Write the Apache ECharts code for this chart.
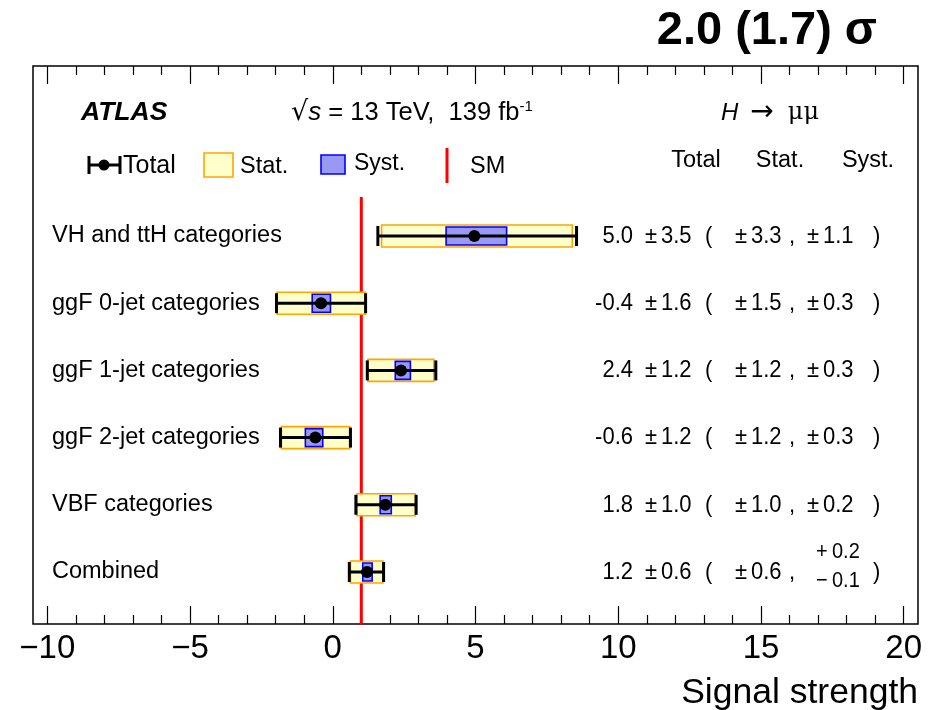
<!DOCTYPE html>
<html><head><meta charset="utf-8">
<script src="https://cdn.jsdelivr.net/npm/echarts@6/dist/echarts.min.js"></script>
<style>html,body{margin:0;padding:0;background:#fff}#c{width:936px;height:710px}</style>
</head><body><div id="c"></div>
<script>
// ---- data ----
const categories = ['VH and ttH categories','ggF 0-jet categories','ggF 1-jet categories','ggF 2-jet categories','VBF categories','Combined'];
const rowPos   = [5, 4, 3, 2, 1, 0];
const center   = [4.96, -0.41, 2.39, -0.61, 1.84, 1.20];
const totLo    = [1.58, -1.97, 1.21, -1.83, 0.81, 0.58];
const totHi    = [8.54, 1.15, 3.61, 0.62, 2.92, 1.78];
const statLo   = [1.71, -1.95, 1.23, -1.80, 0.85, 0.62];
const statHi   = [8.39, 1.15, 3.54, 0.59, 2.89, 1.76];
const systLo   = [3.97, -0.72, 2.19, -0.96, 1.66, 1.05];
const systHi   = [6.09, -0.08, 2.72, -0.35, 2.05, 1.38];
const valTxt   = ['5.0', '-0.4', '2.4', '-0.6', '1.8', '1.2'];
const totTxt   = ['3.5', '1.6', '1.2', '1.2', '1.0', '0.6'];
const statTxt  = ['3.3', '1.5', '1.2', '1.2', '1.0', '0.6'];
const systUp   = ['1.1', '0.3', '0.3', '0.3', '0.2', '0.2'];
const systDn   = ['1.1', '0.3', '0.3', '0.3', '0.2', '0.1'];
const smValue  = 1;
const smRange  = [-0.78, 5.58];
const majorTicks = [-10, -5, 0, 5, 10, 15, 20];
const minorTicks = [-9, -8, -7, -6, -4, -3, -2, -1, 1, 2, 3, 4, 6, 7, 8, 9, 11, 12, 13, 14, 16, 17, 18, 19];
const xRange = [-10.5, 20.5];
const yRange = [-0.774, 7.53];
const titleTxt = '2.0 (1.7) σ';
const xTitle = 'Signal strength';

const FONT = '"Liberation Sans", Arial, Helvetica, sans-serif';
const chart = echarts.init(document.getElementById('c'));

function xa(pos, vals, len, showLabel) {
  return {
    type: 'value', position: pos, min: xRange[0], max: xRange[1],
    axisLine: {show: false, onZero: false}, splitLine: {show: false},
    axisTick: {show: true, inside: true, length: len, customValues: vals, lineStyle: {color: '#000', width: 1.2}},
    axisLabel: showLabel ? {show: true, customValues: vals, margin: 8, color: '#000', fontSize: 33, fontFamily: FONT,
      formatter: v => String(v).replace('-', '\u2212')} : {show: false}
  };
}

const rowData = rowPos.map((p, i) => [p, center[i], totLo[i], totHi[i], statLo[i], statHi[i], systLo[i], systHi[i]]);

function txt(x, y, s, size, align, sy) {
  return {type: 'text', x: x, y: y, scaleY: sy || 1, style: {text: s, fill: '#000', font: (size || 22) + 'px ' + FONT,
    textAlign: align || 'left', textVerticalAlign: 'middle'}};
}

const NS = 22, SY = 1.12;
const option = {
  animation: false,
  backgroundColor: '#fff',
  grid: {left: 33, right: 18, top: 66, bottom: 86, show: true, borderColor: '#000', borderWidth: 1.5},
  xAxis: [xa('bottom', majorTicks, 18, true), xa('bottom', minorTicks, 9, false),
          xa('top', majorTicks, 18, false), xa('top', minorTicks, 9, false)],
  yAxis: {type: 'value', min: yRange[0], max: yRange[1], show: false},
  series: [
    {
      type: 'line', xAxisIndex: 0, data: smRange.map(v => [smValue, v]), symbol: 'none',
      lineStyle: {color: '#ff0000', width: 3}, z: 1, silent: true
    },
    {
      type: 'custom', xAxisIndex: 0, z: 3,
      data: rowData,
      encode: {x: [1, 2, 3, 4, 5, 6, 7], y: 0},
      renderItem: function (params, api) {
        const y = api.coord([0, api.value(0)])[1];
        const px = v => api.coord([v, 0])[0];
        const c = px(api.value(1)), tl = px(api.value(2)), th = px(api.value(3));
        const sl = px(api.value(4)), sh = px(api.value(5)), yl = px(api.value(6)), yh = px(api.value(7));
        return {type: 'group', children: [
          {type: 'rect', shape: {x: sl, y: y - 11, width: sh - sl, height: 22}, style: {fill: '#ffffcc', stroke: '#ffa500', lineWidth: 1.6}},
          {type: 'rect', shape: {x: yl, y: y - 9, width: yh - yl, height: 18}, style: {fill: '#9999f5', stroke: '#0000ff', lineWidth: 1.6}},
          {type: 'line', shape: {x1: tl, y1: y, x2: th, y2: y}, style: {stroke: '#000', lineWidth: 3}},
          {type: 'line', shape: {x1: tl, y1: y - 10, x2: tl, y2: y + 10}, style: {stroke: '#000', lineWidth: 3}},
          {type: 'line', shape: {x1: th, y1: y - 10, x2: th, y2: y + 10}, style: {stroke: '#000', lineWidth: 3}},
          {type: 'circle', shape: {cx: c, cy: y, r: 6}, style: {fill: '#000'}}
        ]};
      }
    },
    {
      type: 'custom', xAxisIndex: 0, z: 4, silent: true,
      data: rowPos.map((p, i) => [p, i]),
      encode: {y: 0},
      renderItem: function (params, api) {
        const i = api.value(1);
        const y = api.coord([0, api.value(0)])[1];
        const ch = [
          txt(52, y, categories[i], 23.5),
          txt(633, y, valTxt[i], NS, 'right', SY),
          txt(645, y, '\u00b1', NS, 'left', SY),
          txt(661, y, totTxt[i], NS, 'left', SY),
          txt(705, y, '(', NS, 'left', SY),
          txt(735, y, '\u00b1', NS, 'left', SY),
          txt(751, y, statTxt[i], NS, 'left', SY),
          txt(789, y, ',', NS, 'left', SY),
          txt(873, y, ')', NS, 'left', SY)
        ];
        if (systUp[i] === systDn[i]) {
          ch.push(txt(807, y, '\u00b1', NS, 'left', SY));
          ch.push(txt(823, y, systUp[i], NS, 'left', SY));
        } else {
          ch.push(txt(816, y - 20, '+', 20, 'left', SY));
          ch.push(txt(832, y - 20, systUp[i], 20, 'left', SY));
          ch.push(txt(816, y + 9, '\u2212', 20, 'left', SY));
          ch.push(txt(832, y + 9, systDn[i], 20, 'left', SY));
        }
        return {type: 'group', children: ch};
      }
    }
  ],
  graphic: [
    {type: 'text', x: 877, y: 31, style: {text: titleTxt, fill: '#000', font: 'bold 47px ' + FONT, textAlign: 'right', textVerticalAlign: 'middle'}},
    {type: 'text', right: 18, top: 675, style: {text: xTitle, fill: '#000', font: '35.5px ' + FONT}},
    {type: 'text', x: 81, y: 113, style: {text: 'ATLAS', fill: '#000', font: 'italic bold 26.5px ' + FONT, textVerticalAlign: 'middle'}},
    {type: 'text', x: 291, y: 113, style: {rich: {
        q: {font: '27px "DejaVu Sans"', fill: '#000'},
        r: {font: '25.5px ' + FONT, fill: '#000'}, s: {font: 'italic 26px ' + FONT, fill: '#000'},
        sup: {font: '15px ' + FONT, fill: '#000', verticalAlign: 'top', padding: [0, 0, 12, 0]}},
      text: '{q|\u221a}{s|s}{r| = 13 TeV,  139 fb}{sup|-1}', textVerticalAlign: 'middle'}},
    {type: 'text', x: 721, y: 113, style: {rich: {
        h: {font: 'italic 24px ' + FONT, fill: '#000'}, a: {font: '28px "DejaVu Sans"', fill: '#000'},
        r: {font: '24px "DejaVu Serif"', fill: '#000'}},
      text: '{h|H\u2002}{a|\u2192\u2002}{r|\u03bc\u03bc}', textVerticalAlign: 'middle'}},
    txt(696, 161, 'Total', 23.5, 'center'),
    txt(780, 161, 'Stat.', 23.5, 'center'),
    txt(868, 161, 'Syst.', 23.5, 'center'),
    // legend
    {type: 'line', shape: {x1: 89, y1: 165, x2: 120, y2: 165}, style: {stroke: '#000', lineWidth: 3}},
    {type: 'line', shape: {x1: 89, y1: 156, x2: 89, y2: 174}, style: {stroke: '#000', lineWidth: 3}},
    {type: 'line', shape: {x1: 120, y1: 156, x2: 120, y2: 174}, style: {stroke: '#000', lineWidth: 3}},
    {type: 'circle', shape: {cx: 104, cy: 165, r: 5.5}, style: {fill: '#000'}},
    txt(123, 166, 'Total', 25),
    {type: 'rect', shape: {x: 204, y: 153, width: 29, height: 24}, style: {fill: '#ffffcc', stroke: '#ffa500', lineWidth: 1.6}},
    txt(240, 167, 'Stat.', 23.5),
    {type: 'rect', shape: {x: 321, y: 155, width: 24, height: 19}, style: {fill: '#9999f5', stroke: '#0000ff', lineWidth: 1.6}},
    txt(354, 164, 'Syst.', 23),
    {type: 'line', shape: {x1: 447, y1: 148, x2: 447, y2: 183}, style: {stroke: '#ff0000', lineWidth: 3}},
    txt(470, 167, 'SM', 23.5)
  ]
};
chart.setOption(option);
</script>
</body></html>
